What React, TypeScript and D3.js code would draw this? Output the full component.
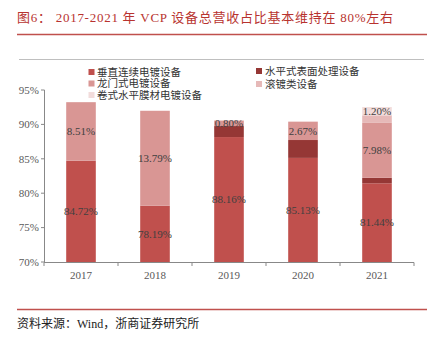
import React from "react";
import * as d3 from "d3";

const categories = ["2017", "2018", "2019", "2020", "2021"];
const vertical = [84.72, 78.19, 88.16, 85.13, 81.44];
const horizontalSurface = [0, 0, 1.6, 2.6, 0.8];
const gantry = [8.51, 13.79, 0.8, 2.67, 7.98];
const barrel = [0, 0, 0, 0, 1.1];
const roll = [0, 0, 0, 0, 1.2];
const yTicks = [70, 75, 80, 85, 90, 95];

const seriesNames = ["垂直连续电镀设备", "水平式表面处理设备", "龙门式电镀设备", "滚镀类设备", "卷式水平膜材电镀设备"];
const seriesKeys = ["vertical", "horizontalSurface", "gantry", "barrel", "roll"];
const colors = ["#C0504D", "#953735", "#D99694", "#E6B9B8", "#F2DCDB"];
const labelled = [true, false, true, false, true];

const W = 437;
const H = 340;
const serif = "'Liberation Serif', 'Times New Roman', 'Noto Sans CJK SC', serif";
const cjk = "'Liberation Serif', 'Noto Sans CJK SC', serif";

export default function App() {
  const rows = categories.map((c, i) => ({
    cat: c,
    vertical: vertical[i],
    horizontalSurface: horizontalSurface[i],
    gantry: gantry[i],
    barrel: barrel[i],
    roll: roll[i],
  }));
  const stack = d3.stack<any>().keys(seriesKeys)(rows);

  const x = d3.scaleBand().domain(categories).range([44, 414]).paddingInner(0.6).paddingOuter(0.3);
  const y = d3.scaleLinear().domain([70, 95]).range([262, 90]);
  const [y0, y1] = y.domain();
  const clampV = (v: number) => Math.max(y0, Math.min(y1, v));

  const step = x.step();
  const bounds = d3.range(categories.length + 1).map((i) => 44 + i * step);

  const legendLeft = [0, 2, 4];
  const legendRight = [1, 3];

  return (
    <svg width={W} height={H} style={{ position: "absolute", left: 0, top: 0, background: "#fff" }}>
      {/* title */}
      <text x={17} y={22} fontSize={13} fill="#B8332F" fontFamily={cjk} textLength={376} lengthAdjust="spacing">
        图6：  2017-2021 年 VCP 设备总营收占比基本维持在 80%左右
      </text>
      <line x1={17} x2={427} y1={34.5} y2={34.5} stroke="#C0504D" strokeWidth={1.3} />
      <line x1={19} x2={424} y1={59.5} y2={59.5} stroke="#BFBFBF" strokeWidth={1} />

      {/* bars */}
      {stack.map((s, si) => (
        <g key={si}>
          {s.map((d: any, i: number) => {
            const a = clampV(d[0]);
            const b = clampV(d[1]);
            if (b - a <= 0) return null;
            return (
              <rect
                key={i}
                x={x(categories[i])}
                width={x.bandwidth()}
                y={y(b)}
                height={y(a) - y(b)}
                fill={colors[si]}
              />
            );
          })}
        </g>
      ))}

      {/* labels */}
      {stack.map((s, si) =>
        labelled[si]
          ? s.map((d: any, i: number) => {
              const val = d[1] - d[0];
              if (val <= 0) return null;
              const a = clampV(d[0]);
              const b = clampV(d[1]);
              const cy = y((a + b) / 2);
              return (
                <text
                  key={si + "-" + i}
                  x={(x(categories[i]) as number) + x.bandwidth() / 2}
                  y={cy}
                  dy="0.35em"
                  textAnchor="middle"
                  fontSize={11}
                  fill="#404040"
                  fontFamily={serif}
                >
                  {val.toFixed(2)}%
                </text>
              );
            })
          : null
      )}

      {/* y axis */}
      <line x1={44.5} x2={44.5} y1={y(95)} y2={y(70)} stroke="#888" />
      {yTicks.map((t) => (
        <g key={t}>
          <line x1={41} x2={44.5} y1={y(t)} y2={y(t)} stroke="#888" />
          <text x={39} y={y(t)} dy="0.35em" textAnchor="end" fontSize={11} fill="#595959" fontFamily={serif}>
            {t}%
          </text>
        </g>
      ))}

      {/* x axis */}
      <line x1={44} x2={414} y1={262.5} y2={262.5} stroke="#888" />
      {bounds.map((b, i) => (
        <line key={i} x1={b} x2={b} y1={262.5} y2={266} stroke="#888" />
      ))}
      {categories.map((c) => (
        <text
          key={c}
          x={(x(c) as number) + x.bandwidth() / 2}
          y={279}
          textAnchor="middle"
          fontSize={11}
          fill="#595959"
          fontFamily={serif}
        >
          {c}
        </text>
      ))}

      {/* legend */}
      {legendLeft.map((si, r) => (
        <g key={si}>
          <rect x={88.5} y={69 + r * 11.5} width={6} height={6} fill={colors[si]} />
          <text x={97} y={72 + r * 11.5} dy="0.35em" fontSize={10.5} fill="#333" fontFamily={cjk}>
            {seriesNames[si]}
          </text>
        </g>
      ))}
      {legendRight.map((si, r) => (
        <g key={si}>
          <rect x={256} y={68 + r * 13} width={6} height={6} fill={colors[si]} />
          <text x={265} y={71 + r * 13} dy="0.35em" fontSize={10.5} fill="#333" fontFamily={cjk}>
            {seriesNames[si]}
          </text>
        </g>
      ))}

      {/* footer */}
      <line x1={17} x2={427} y1={309.5} y2={309.5} stroke="#C0504D" strokeWidth={1.3} />
      <text x={17} y={328} fontSize={12} fill="#222" fontFamily={cjk}>
        资料来源：Wind，浙商证券研究所
      </text>
    </svg>
  );
}
